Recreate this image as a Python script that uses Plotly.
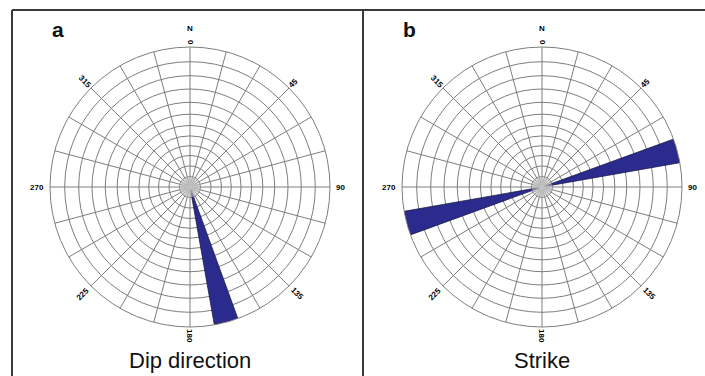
import numpy as np
import plotly.graph_objects as go

# Rose diagram data: bin centres (degrees, clockwise from N) and relative frequency
bin_width = 10
dip_dir_bins = [165]
dip_dir_freq = [1.0]
strike_bins = [75, 255]
strike_freq = [1.0, 1.0]

panel_letters = ["a", "b"]
panel_titles = ["Dip direction", "Strike"]
compass_ticks = [0, 45, 90, 135, 180, 225, 270, 315]
compass_offsets = {0: 145, 45: 146, 90: 150, 135: 151, 180: 149, 225: 152, 270: 153, 315: 149}

# concentric reference circles of the net
ring_levels = [0.075, 0.15, 0.225, 0.295, 0.365, 0.44, 0.52, 0.605, 0.70, 0.795, 0.895]

W, H = 705, 376
R = 140
centers = [(190, 187), (542, 187)]
GRID = "#7e7e7e"
FILL = "#2b2b8e"
LABEL_FONT = dict(family="Liberation Sans, Arial", size=8, color="#000000")

fig = go.Figure()


def polar_layout(cx, cy):
    return dict(
        domain=dict(x=[(cx - R) / W, (cx + R) / W], y=[(H - cy - R) / H, (H - cy + R) / H]),
        bgcolor="white",
        angularaxis=dict(
            rotation=90, direction="clockwise", tickmode="linear", tick0=0, dtick=15,
            showticklabels=False, ticks="", gridcolor=GRID, gridwidth=1,
            showline=True, linecolor=GRID, linewidth=1,
        ),
        radialaxis=dict(
            range=[0, 1], tickvals=ring_levels, showticklabels=False, ticks="",
            gridcolor=GRID, gridwidth=1, showline=False,
        ),
    )


# fine spokes inside the innermost circle
hub_theta, hub_r = [], []
for a in range(0, 360, 5):
    hub_theta += [a, a, None]
    hub_r += [0, ring_levels[0], None]

for i, (bins, freq) in enumerate([(dip_dir_bins, dip_dir_freq), (strike_bins, strike_freq)]):
    pname = "polar" if i == 0 else "polar2"
    fig.add_trace(go.Scatterpolar(
        r=hub_r, theta=hub_theta, mode="lines", subplot=pname,
        line=dict(color="#c4c4c4", width=0.5), hoverinfo="skip", showlegend=False,
    ))
    fig.add_trace(go.Barpolar(
        r=freq, theta=bins, width=[bin_width] * len(bins), subplot=pname,
        marker=dict(color=FILL, line=dict(color="#14143c", width=0.7)),
        showlegend=False,
    ))

annotations = []
for (cx, cy), letter, title in zip(centers, panel_letters, panel_titles):
    for t in compass_ticks:
        rr = compass_offsets[t]
        x = cx + rr * np.sin(np.radians(t))
        y = cy - rr * np.cos(np.radians(t))
        ang = t - 90
        if ang <= -90:
            ang += 180
        if ang > 90:
            ang -= 180
        annotations.append(dict(
            x=x / W, y=1 - y / H, xref="paper", yref="paper", text=f"<b>{t}</b>",
            showarrow=False, textangle=ang, xanchor="center", yanchor="middle",
            font=LABEL_FONT,
        ))
    annotations.append(dict(
        x=cx / W, y=1 - (cy - 159) / H, xref="paper", yref="paper", text="<b>N</b>",
        showarrow=False, xanchor="center", yanchor="middle", font=LABEL_FONT,
    ))
    annotations.append(dict(
        x=(cx - 132) / W, y=1 - 29 / H, xref="paper", yref="paper", text=f"<b>{letter}</b>",
        showarrow=False, xanchor="center", yanchor="middle",
        font=dict(family="Liberation Sans, Arial", size=21, color="#111111"),
    ))
    annotations.append(dict(
        x=cx / W, y=1 - 360 / H, xref="paper", yref="paper", text=title,
        showarrow=False, xanchor="center", yanchor="middle",
        font=dict(family="Liberation Sans, Arial", size=22, color="#111111"),
    ))

frame = dict(color="#3a3a3a", width=2)
shapes = [
    dict(type="line", xref="paper", yref="paper", x0=12 / W, x1=1, y0=1 - 10 / H, y1=1 - 10 / H, line=frame),
    dict(type="line", xref="paper", yref="paper", x0=12 / W, x1=12 / W, y0=0, y1=1 - 10 / H, line=frame),
    dict(type="line", xref="paper", yref="paper", x0=363 / W, x1=363 / W, y0=0, y1=1 - 10 / H, line=frame),
]

fig.update_layout(
    width=W, height=H, margin=dict(l=0, r=0, t=0, b=0),
    paper_bgcolor="white", plot_bgcolor="white",
    polar=polar_layout(*centers[0]), polar2=polar_layout(*centers[1]),
    annotations=annotations, shapes=shapes, showlegend=False,
)

fig.write_html("out.html")
